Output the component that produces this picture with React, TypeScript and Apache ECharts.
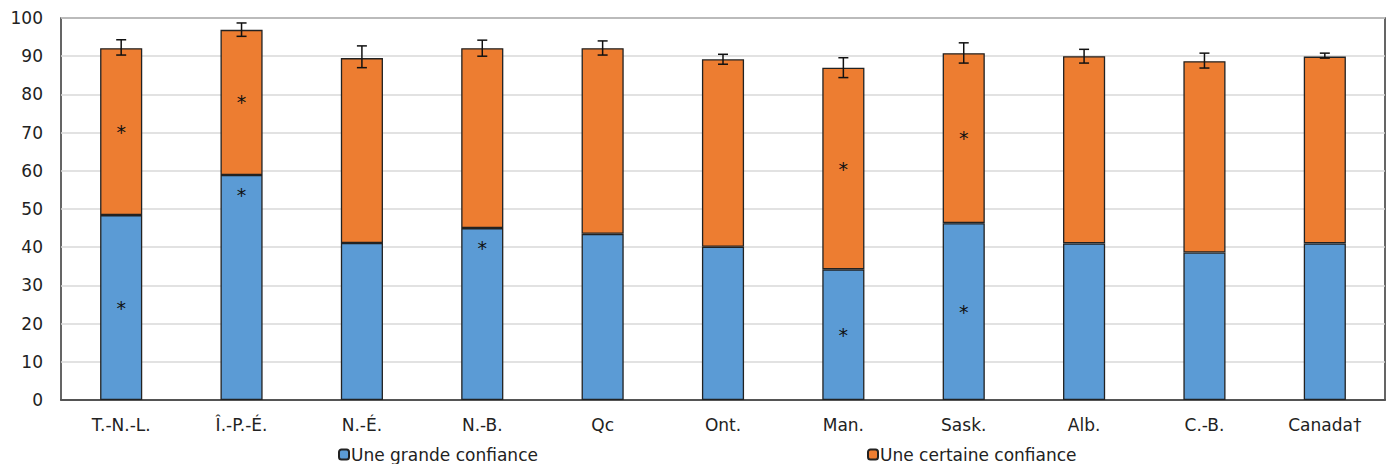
import React, { useEffect, useRef } from "react";
import * as echarts from "echarts";

const categories = ["T.-N.-L.", "Î.-P.-É.", "N.-É.", "N.-B.", "Qc", "Ont.", "Man.", "Sask.", "Alb.", "C.-B.", "Canada†"];
const grande = [48.4, 58.9, 41.1, 45.0, 43.5, 40.1, 34.2, 46.3, 41.0, 38.6, 41.0];
const certaine = [43.7, 38.0, 48.4, 47.1, 48.6, 49.1, 52.8, 44.5, 49.0, 50.1, 48.9];
const errLow = [90.3, 95.2, 87.0, 90.0, 90.3, 87.9, 84.4, 88.2, 88.2, 86.9, 89.5];
const errHigh = [94.3, 98.7, 92.7, 94.2, 94.0, 90.5, 89.6, 93.5, 91.8, 90.8, 90.8];
const grandeSig = [1, 2, 0, 2, 0, 0, 1, 1, 0, 0, 0]; // 1 = centre, 2 = near top
const certaineSig = [1, 1, 0, 0, 0, 0, 1, 1, 0, 0, 0];
const yTicks = [0, 10, 20, 30, 40, 50, 60, 70, 80, 90, 100];

const FONT = "DejaVu Sans";
const BLUE = "#5B9BD5";
const ORANGE = "#ED7D31";

function sigLabel(flag: number) {
  if (!flag) return { show: false };
  return {
    show: true,
    formatter: "*",
    position: flag === 2 ? "insideTop" : "inside",
    distance: flag === 2 ? 10 : 5,
    color: "#111",
    fontFamily: FONT,
    fontSize: 19,
  };
}

export default function App() {
  const ref = useRef<HTMLDivElement>(null);
  useEffect(() => {
    if (!ref.current) return;
    const chart = echarts.init(ref.current, undefined, { renderer: "svg" });
    const barStyle = (c: string) => ({ color: c, borderColor: "#222", borderWidth: 1.3 });
    const legendText = { fontFamily: FONT, fontSize: 17, color: "#222", padding: [0, 0, 0, -3] };
    chart.setOption({
      animation: false,
      grid: { left: 61, right: 2, top: 18, bottom: 64, show: true, borderColor: "#333", borderWidth: 1.5, backgroundColor: "transparent" },
      legend: [
        { left: 333, top: 441, itemWidth: 10, itemHeight: 10, itemGap: 4, data: ["Une grande confiance"], textStyle: legendText },
        { left: 862, top: 441, itemWidth: 10, itemHeight: 10, itemGap: 4, data: ["Une certaine confiance"], textStyle: legendText },
      ],
      xAxis: {
        type: "category",
        data: categories,
        axisTick: { show: false },
        axisLine: { lineStyle: { color: "#333", width: 1.5 } },
        axisLabel: { fontFamily: FONT, fontSize: 17, color: "#222", margin: 16 },
      },
      yAxis: {
        type: "value",
        min: yTicks[0],
        max: yTicks[yTicks.length - 1],
        interval: 10,
        axisLine: { show: false },
        axisTick: { show: false },
        splitLine: { lineStyle: { color: "#d9d9d9", width: 1.5 } },
        axisLabel: { fontFamily: FONT, fontSize: 17, color: "#222", margin: 18 },
      },
      series: [
        {
          name: "Une grande confiance",
          type: "bar",
          stack: "t",
          barWidth: "35%",
          itemStyle: barStyle(BLUE),
          data: grande.map((v, i) => ({ value: v, label: sigLabel(grandeSig[i]) })),
        },
        {
          name: "Une certaine confiance",
          type: "bar",
          stack: "t",
          barWidth: "35%",
          itemStyle: barStyle(ORANGE),
          data: certaine.map((v, i) => ({ value: v, label: sigLabel(certaineSig[i]) })),
        },
        {
          type: "custom",
          silent: true,
          z: 10,
          encode: { x: 0, y: [1, 2] },
          data: categories.map((_, i) => [i, errLow[i], errHigh[i]]),
          renderItem: (params: any, api: any) => {
            const lo = api.coord([api.value(0), api.value(1)]);
            const hi = api.coord([api.value(0), api.value(2)]);
            const w = 5;
            const st = { stroke: "#111", lineWidth: 1.5 };
            return {
              type: "group",
              children: [
                { type: "line", shape: { x1: lo[0], y1: lo[1], x2: hi[0], y2: hi[1] }, style: st },
                { type: "line", shape: { x1: lo[0] - w, y1: lo[1], x2: lo[0] + w, y2: lo[1] }, style: st },
                { type: "line", shape: { x1: hi[0] - w, y1: hi[1], x2: hi[0] + w, y2: hi[1] }, style: st },
              ],
            };
          },
        },
      ],
    });
    return () => chart.dispose();
  }, []);
  return <div ref={ref} style={{ width: 1387, height: 464, position: "absolute", left: 0, top: 0 }} />;
}
